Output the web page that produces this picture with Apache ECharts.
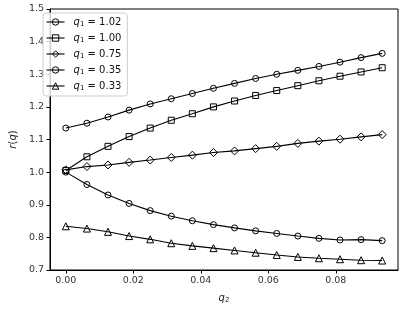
<!DOCTYPE html>
<html>
<head>
<meta charset="utf-8">
<script src="https://cdn.jsdelivr.net/npm/echarts@6/dist/echarts.min.js"></script>
<style>
  html, body { margin: 0; padding: 0; background: #fff; }
  #main { width: 403px; height: 309px; }
</style>
</head>
<body>
<div id="main"></div>
<script>
// q2 values along the x axis
const q2 = [0, 0.00625, 0.0125, 0.01875, 0.025, 0.03125, 0.0375, 0.04375,
  0.05, 0.05625, 0.0625, 0.06875, 0.075, 0.08125, 0.0875, 0.09375];

const q1Labels = ['1.02', '1.00', '0.75', '0.35', '0.33'];
const markers = ['circle', 'rect', 'diamond', 'circle', 'triangle'];

// r(q), one list per q1
const r102 = [1.135, 1.150, 1.169, 1.190, 1.209, 1.225, 1.241, 1.257,
  1.272, 1.287, 1.300, 1.312, 1.324, 1.337, 1.351, 1.364];
const r100 = [1.005, 1.047, 1.079, 1.109, 1.135, 1.159, 1.179, 1.200,
  1.218, 1.235, 1.250, 1.265, 1.280, 1.294, 1.307, 1.320];
const r075 = [1.007, 1.017, 1.022, 1.030, 1.037, 1.045, 1.052, 1.060,
  1.065, 1.072, 1.079, 1.088, 1.095, 1.101, 1.108, 1.115];
const r035 = [1.000, 0.962, 0.930, 0.904, 0.882, 0.865, 0.851, 0.839,
  0.829, 0.820, 0.812, 0.804, 0.797, 0.792, 0.793, 0.790];
const r033 = [0.834, 0.827, 0.817, 0.804, 0.794, 0.782, 0.774, 0.767,
  0.760, 0.753, 0.746, 0.740, 0.736, 0.733, 0.730, 0.729];

const xTicks = [0, 0.02, 0.04, 0.06, 0.08];

const allR = [r102, r100, r075, r035, r033];
const symbolSizes = [6, 6, 8, 6, 7];

const font = 'DejaVu Sans';
const chart = echarts.init(document.getElementById('main'));

const series = allR.map((vals, k) => ({
  name: q1Labels[k],
  type: 'line',
  data: q2.map((x, i) => [x, vals[i]]),
  symbol: markers[k],
  symbolSize: symbolSizes[k],
  showAllSymbol: true,
  itemStyle: { color: 'rgba(255,255,255,0)', borderColor: '#000', borderWidth: 1 },
  lineStyle: { color: '#000', width: 1.1 },
  emphasis: { disabled: true },
  animation: false
}));

chart.setOption({
  animation: false,
  textStyle: { fontFamily: font },
  grid: {
    left: 38, right: 5, top: 9, bottom: 31,
    show: true, borderColor: '#000', borderWidth: 1
  },
  legend: {
    orient: 'vertical',
    left: 43, top: 13,
    padding: [4, 6, 4, 3],
    itemGap: 5,
    itemWidth: 18,
    itemHeight: 8,
    backgroundColor: 'rgba(255,255,255,0.8)',
    borderColor: '#ccc',
    borderWidth: 1,
    borderRadius: 3,
    itemStyle: { color: 'rgba(255,255,255,0)', borderColor: '#000', borderWidth: 1 },
    lineStyle: { color: '#000', width: 1.1 },
    data: q1Labels,
    formatter: name => '{i|q}{s|1}{n| = ' + name + '}',
    textStyle: {
      padding: [0, 0, 0, 4],
      rich: {
        i: { fontFamily: font, fontStyle: 'italic', fontSize: 10, color: '#111' },
        s: { fontFamily: font, fontSize: 7, color: '#111', padding: [5, 0, 0, 0] },
        n: { fontFamily: font, fontSize: 10, color: '#111' }
      }
    }
  },
  xAxis: {
    type: 'value',
    min: -0.0046875,
    max: 0.0984375,
    name: '{i|q}{s|2}',
    nameLocation: 'middle',
    nameGap: 22,
    nameTextStyle: {
      rich: {
        i: { fontFamily: font, fontStyle: 'italic', fontSize: 10, color: '#222' },
        s: { fontFamily: font, fontSize: 7, color: '#222', padding: [5, 0, 0, 0] }
      }
    },
    axisLine: { show: true, onZero: false, lineStyle: { color: '#000', width: 1 } },
    axisTick: { show: true, length: 3.5, customValues: xTicks, lineStyle: { color: '#000' } },
    axisLabel: {
      customValues: xTicks,
      margin: 6,
      fontSize: 9.5,
      color: '#333',
      formatter: v => v.toFixed(2)
    },
    splitLine: { show: false }
  },
  yAxis: {
    type: 'value',
    min: 0.7,
    max: 1.5,
    interval: 0.1,
    name: '{i|r}{n|(}{i|q}{n|)}',
    nameLocation: 'middle',
    nameGap: 30,
    nameRotate: 90,
    nameTextStyle: {
      rich: {
        i: { fontFamily: font, fontStyle: 'italic', fontSize: 10, color: '#222' },
        n: { fontFamily: font, fontSize: 10, color: '#222' }
      }
    },
    axisLine: { show: true, onZero: false, lineStyle: { color: '#000', width: 1 } },
    axisTick: { show: true, length: 3.5, lineStyle: { color: '#000' } },
    axisLabel: {
      margin: 6,
      fontSize: 9.5,
      color: '#333',
      formatter: v => v.toFixed(1)
    },
    splitLine: { show: false }
  },
  series: series
});
</script>
</body>
</html>
